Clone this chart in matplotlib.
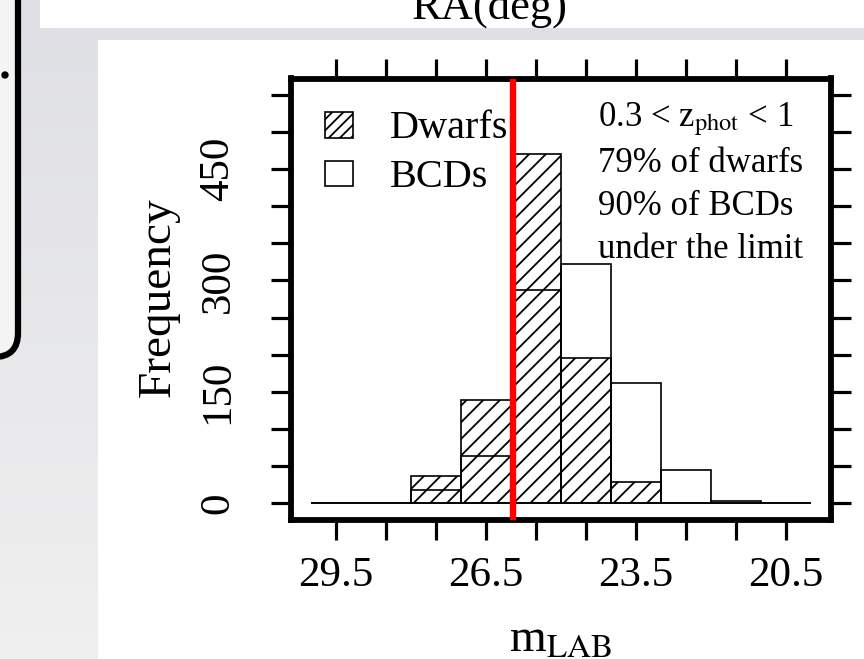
import matplotlib.pyplot as plt
import numpy as np
from matplotlib.patches import Rectangle, FancyBboxPatch, Circle
from matplotlib.transforms import Affine2D

plt.rcParams['font.family'] = ['Liberation Serif', 'DejaVu Serif']
plt.rcParams['mathtext.fontset'] = 'stix'
plt.rcParams['hatch.linewidth'] = 1.3

# histogram of m_LAB, bins of 1 mag from 30 down to 20
bin_lo = [29, 28, 27, 26, 25, 24, 23, 22, 21, 20]
dwarfs = [0, 0, 36, 139, 470, 195, 28, 0, 0, 0]
bcds = [0, 0, 18, 64, 287, 322, 162, 45, 3, 0]
mag_limit = 25.97

x_ticks = [29.5, 28.5, 27.5, 26.5, 25.5, 24.5, 23.5, 22.5, 21.5, 20.5]
x_labeled = [29.5, 26.5, 23.5, 20.5]
y_ticks = list(range(0, 551, 50))
y_labeled = [0, 150, 300, 450]

legend_labels = ['Dwarfs', 'BCDs']
notes = [r'0.3 < z$_{\mathrm{phot}}$ < 1', '79% of dwarfs', '90% of BCDs', 'under the limit']

W, H = 864, 659
fig = plt.figure(figsize=(W / 100, H / 100), dpi=100)

# pixel coords, origin top-left
px = Affine2D().scale(1 / W, -1 / H).translate(0, 1) + fig.transFigure

# slide background
bg = fig.add_axes([0, 0, 1, 1], zorder=-10)
grad = np.linspace(0, 1, 200)[:, None]
top_c = np.array([0.875, 0.878, 0.898])
bot_c = np.array([0.94, 0.94, 0.94])
img = top_c[None, None, :] * (1 - grad[..., None]) + bot_c[None, None, :] * grad[..., None]
bg.imshow(img, aspect='auto', extent=[0, 1, 0, 1])
bg.axis('off')

fig.add_artist(Rectangle((40, -5), 830, 33, transform=px, facecolor='white', edgecolor='none', zorder=-5))
fig.add_artist(Rectangle((98, 40), 770, 625, transform=px, facecolor='white', edgecolor='none', zorder=-5))
fig.add_artist(FancyBboxPatch((-40, -40), 58, 397, boxstyle='round,pad=0,rounding_size=24',
                              transform=px, facecolor='#f4f4f4', edgecolor='black', linewidth=4.5, zorder=-4))
fig.add_artist(Circle((5, 75), 3, transform=px, color='black', zorder=-3))
fig.text(490, 19, 'RA(deg)', transform=px, ha='center', va='baseline', fontsize=32)

# histogram panel
ax = fig.add_axes([291 / W, (H - 519.5) / H, 540 / W, 441 / H])
ax.set_facecolor('white')

ax.bar(bin_lo, dwarfs, width=1, align='edge', facecolor='none', edgecolor='black',
       hatch='//', linewidth=1.2)
ax.bar(bin_lo, bcds, width=1, align='edge', facecolor='none', edgecolor='black',
       linewidth=1.2)
ax.axvline(mag_limit, color='#ff0000', linewidth=4.6, zorder=3)

ax.set_xlim(30.4, 19.6)
ax.set_ylim(-22, 572)

ax.set_xticks(x_ticks)
ax.set_xticklabels([str(t) if t in x_labeled else '' for t in x_ticks])
ax.set_yticks(y_ticks)
ax.set_yticklabels([str(t) if t in y_labeled else '' for t in y_ticks])

for s in ax.spines.values():
    s.set_linewidth(4.2)
ax.tick_params(which='both', direction='out', length=14.5, width=2.3,
               top=True, right=True, labeltop=False, labelright=False)
ax.tick_params(axis='x', labelsize=31, pad=12)
ax.tick_params(axis='y', labelsize=31, pad=24, labelrotation=90)
for lab in ax.get_yticklabels():
    lab.set_verticalalignment('center')

ax.set_xlabel(r'm$_{\mathrm{LAB}}$', fontsize=34, va='baseline')
ax.xaxis.set_label_coords(0.5, -0.3)
ax.set_ylabel('Frequency', fontsize=34, va='center')
ax.yaxis.set_label_coords(-0.246, 0.505)

# legend drawn by hand, R style
leg_y = [0.886, 0.776]
for i, lab in enumerate(legend_labels):
    ax.add_patch(Rectangle((0.063, leg_y[i] - 0.02), 0.052, 0.057, transform=ax.transAxes,
                           facecolor='none', edgecolor='black', linewidth=1.2,
                           hatch='///' if i == 0 else None, clip_on=False))
    ax.text(0.183, leg_y[i], lab, transform=ax.transAxes, ha='left', va='center', fontsize=29)

note_y = [126, 172, 215, 258]
for yy, t in zip(note_y, notes):
    ax.text((598 - 291) / 540, (519.5 - yy) / 441, t, transform=ax.transAxes,
            ha='left', va='baseline', fontsize=25)

fig.savefig('out.png', dpi=100)
